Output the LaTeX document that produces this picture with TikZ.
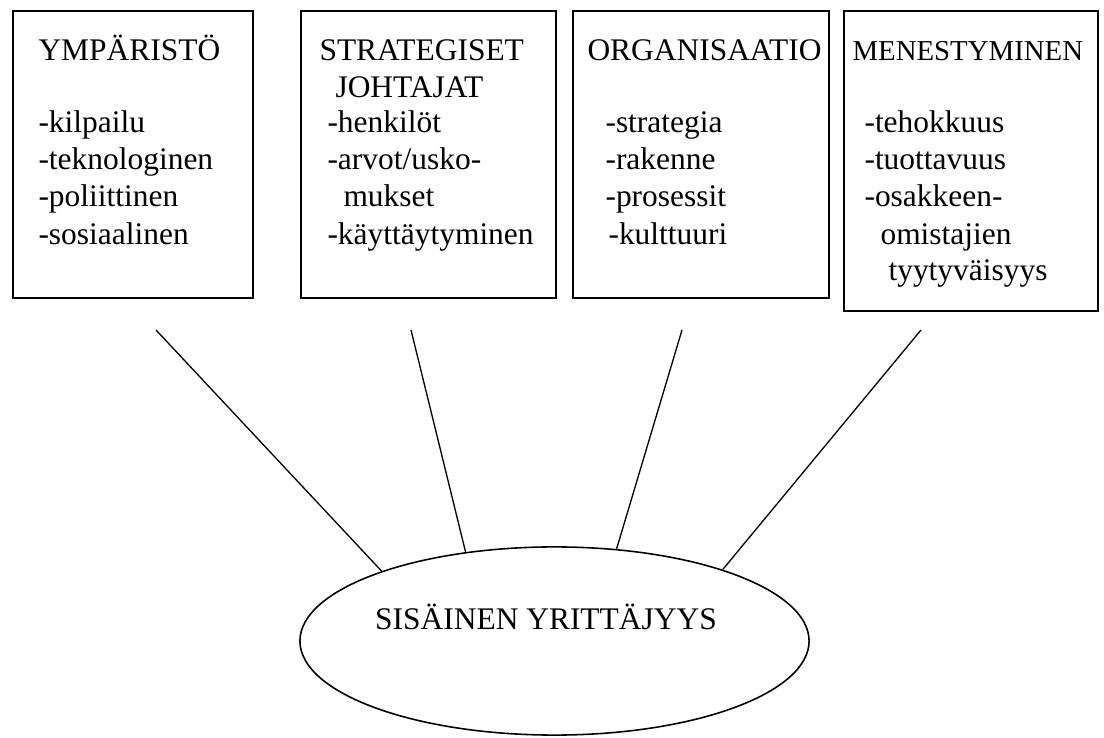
\documentclass[tikz,border=0pt]{standalone}
\usepackage{fontspec}
\setmainfont{Liberation Serif}
\usetikzlibrary{shapes.geometric}

\begin{document}
\begin{tikzpicture}[x=0.013416cm,y=-0.013416cm]
	\tikzstyle{every node}+=[inner sep=0pt]
	\tikzstyle{box}=[draw=black,line width=0.8pt,anchor=north west,minimum height=109.5pt]
	\tikzstyle{txt}=[anchor=base west,font=\fontsize{12}{14}\selectfont]
	\tikzstyle{link}=[draw=black,line width=0.5pt]
	\useasboundingbox (0,0) rectangle (1104,738);
	% laatikot
	\node [box,minimum width=91.6pt] (env) at (12,10) {};
	\node [box,minimum width=97.3pt] (lead) at (300,10) {};
	\node [box,minimum width=97.7pt] (org) at (572,10) {};
	\node [box,minimum width=96.9pt,minimum height=114.5pt] (succ) at (843,10) {};
	% ympäristö
	\node [txt] (envT) at (38,61) {YMPÄRISTÖ};
	\node [txt] (env1) at (38,133) {-kilpailu};
	\node [txt] (env2) at (38,170) {-teknologinen};
	\node [txt] (env3) at (38,207) {-poliittinen};
	\node [txt] (env4) at (38,245) {-sosiaalinen};
	% strategiset johtajat
	\node [txt] (leadT) at (319,61) {STRATEGISET};
	\node [txt] (leadU) at (335,98) {JOHTAJAT};
	\node [txt] (lead1) at (327,133) {-henkilöt};
	\node [txt] (lead2) at (327,170) {-arvot/usko-};
	\node [txt] (lead3) at (343,207) {mukset};
	\node [txt] (lead4) at (327,245) {-käyttäytyminen};
	% organisaatio
	\node [txt] (orgT) at (587,61) {ORGANISAATIO};
	\node [txt] (org1) at (605,133) {-strategia};
	\node [txt] (org2) at (605,170) {-rakenne};
	\node [txt] (org3) at (605,207) {-prosessit};
	\node [txt] (org4) at (608,245) {-kulttuuri};
	% menestyminen
	\node [txt,font=\fontsize{11}{13}\selectfont] (succT) at (852,61) {MENESTYMINEN};
	\node [txt] (succ1) at (864,133) {-tehokkuus};
	\node [txt] (succ2) at (864,170) {-tuottavuus};
	\node [txt] (succ3) at (864,207) {-osakkeen-};
	\node [txt] (succ4) at (880,245) {omistajien};
	\node [txt] (succ5) at (888,281) {tyytyväisyys};
	% sisäinen yrittäjyys
	\node [draw=black,ellipse,line width=0.6pt,minimum width=194.3pt,minimum height=71.8pt] (core) at (554.5,641) {};
	\node [txt,anchor=base] (coreT) at (546,630) {SISÄINEN YRITTÄJYYS};
	\coordinate (c1) at (156,330);
	\coordinate (c2) at (411,330);
	\coordinate (c3) at (682,330);
	\coordinate (c4) at (921,330);
	\draw [link] (c1) -- (core.158);
	\draw [link] (c2) -- (core.135);
	\draw [link] (c3) -- (core.56);
	\draw [link] (c4) -- (core.23);
\end{tikzpicture}
\end{document}
